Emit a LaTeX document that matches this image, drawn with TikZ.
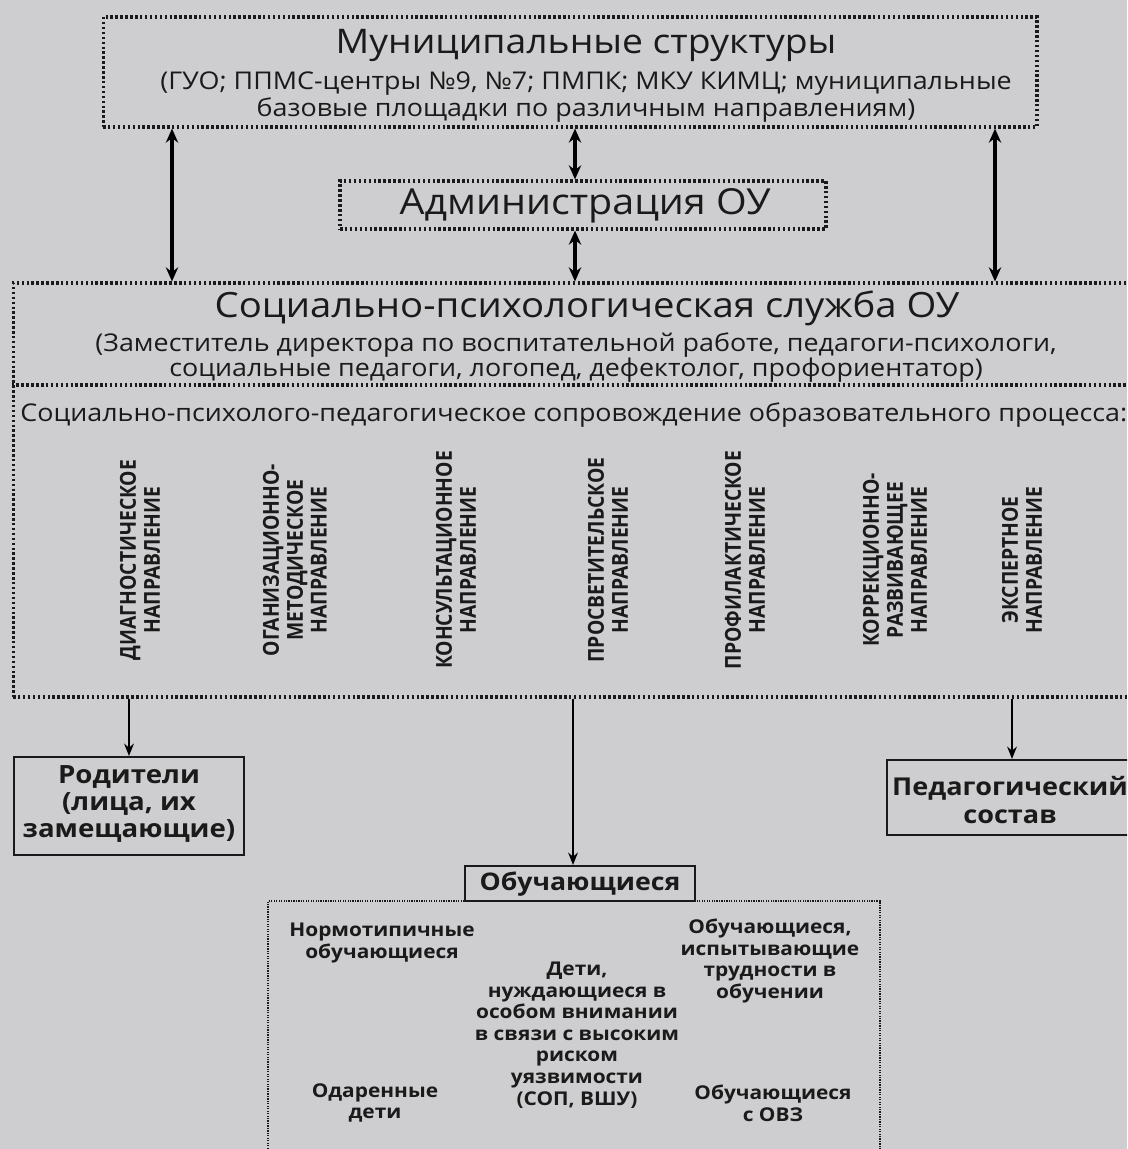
\documentclass[tikz,border=0pt]{standalone}
\usepackage{fontspec}
\setmainfont{Open Sans}[FakeStretch=1.1]
\newfontfamily\narrowfont{Open Sans}[FakeStretch=0.88]
\usetikzlibrary{arrows.meta}
\definecolor{paper}{RGB}{206,206,208}
\definecolor{ink}{RGB}{26,26,26}
\newcommand{\fs}[2]{\fontsize{#1}{#2}\selectfont}

\begin{document}
\begin{tikzpicture}
    [x=0.02cm,y=-0.02cm,every node/.style={text=ink,inner sep=0pt},
     dotbox/.style={draw=ink,line width=1.8pt,dash pattern=on 1.4pt off 1.4pt},
     finebox/.style={draw=ink,line width=0.7pt,dash pattern=on 0.7pt off 0.7pt},
     solidbox/.style={draw=ink,line width=1.2pt},
     twoway/.style={{Stealth[length=8pt,width=7pt]}-{Stealth[length=8pt,width=7pt]},line width=1.8pt},
     oneway/.style={-{Stealth[length=7pt,width=5.5pt]},line width=1.1pt},
     dirlabel/.style={rotate=90,align=center,font=\narrowfont\bfseries\fs{12.5}{13.6}},
     group/.style={align=center,font=\bfseries\fs{10.8}{12.3}}]
    \fill[paper] (0,0) rectangle (1127,1149);
    \clip (0,0) rectangle (1127,1149);
    % boxes
    \node[dotbox,minimum width=18.68cm,minimum height=2.2cm] (mun) at (570,72) {};
    \node[dotbox,minimum width=9.72cm,minimum height=0.96cm] (adm) at (583,205) {};
    \node[dotbox,minimum width=22.54cm,minimum height=8.28cm] (sps) at (576.5,490) {};
    \draw[dotbox] (sps.west |- 0,385) -- (sps.east |- 0,385);
    \node[solidbox,minimum width=4.6cm,minimum height=1.96cm] (par) at (129,806) {};
    \node[solidbox,minimum width=5.06cm,minimum height=1.5cm] (ped) at (1013.5,797.5) {};
    \node[finebox,minimum width=12.24cm,minimum height=5.18cm] (grp) at (574,1030.5) {};
    \node[solidbox,fill=paper,minimum width=4.6cm,minimum height=0.7cm] (obu) at (580,883.5) {};
    % texts
    \node[font=\fs{19.3}{24}] (muntitle) at (586,45) {Муниципальные структуры};
    \node[align=center,font=\fs{13.9}{15.3}] (munsub) at (586,97) {(ГУО; ППМС-центры №9, №7; ПМПК; МКУ КИМЦ; муниципальные\\базовые площадки по различным направлениям)};
    \node[font=\fs{20.4}{24}] (admtitle) at (585,206) {Администрация ОУ};
    \node[font=\fs{19.8}{24}] (spstitle) at (587,308) {Социально-психологическая служба ОУ};
    \node[align=center,font=\fs{13.9}{14.2}] (spssub) at (576,358) {(Заместитель директора по воспитательной работе, педагоги-психологи,\\социальные педагоги, логопед, дефектолог, профориентатор)};
    \node[anchor=west,font=\fs{13.9}{16}] (escort) at (20,415) {Социально-психолого-педагогическое сопровождение образовательного процесса:};
    \foreach \px/\txt [count=\i] in {140/{ДИАГНОСТИЧЕСКОЕ\\НАПРАВЛЕНИЕ},
        295/{ОГАНИЗАЦИОННО-\\МЕТОДИЧЕСКОЕ\\НАПРАВЛЕНИЕ},
        456/{КОНСУЛЬТАЦИОННОЕ\\НАПРАВЛЕНИЕ},
        608/{ПРОСВЕТИТЕЛЬСКОЕ\\НАПРАВЛЕНИЕ},
        745/{ПРОФИЛАКТИЧЕСКОЕ\\НАПРАВЛЕНИЕ},
        895/{КОРРЕКЦИОННО-\\РАЗВИВАЮЩЕЕ\\НАПРАВЛЕНИЕ},
        1022/{ЭКСПЕРТНОЕ\\НАПРАВЛЕНИЕ}}
      \node[dirlabel] (dir\i) at (\px,560) {\txt};
    \node[align=center,font=\bfseries\fs{14.3}{15.6}] (partext) at (129,804) {Родители\\(лица, их\\замещающие)};
    \node[align=center,font=\bfseries\fs{14}{16.4}] (pedtext) at (1010,800) {Педагогический\\состав};
    \node[font=\bfseries\fs{13.8}{18}] (obutext) at (580,884) {Обучающиеся};
    \node[group] (norm) at (382,943) {Нормотипичные\\обучающиеся};
    \node[group] (risk) at (577,1035) {Дети,\\нуждающиеся в\\особом внимании\\в связи с высоким\\риском\\уязвимости\\(СОП, ВШУ)};
    \node[group] (hard) at (770,961) {Обучающиеся,\\испытывающие\\трудности в\\обучении};
    \node[group] (gift) at (375,1103) {Одаренные\\дети};
    \node[group] (ovz) at (773,1103) {Обучающиеся\\с ОВЗ};
    % connectors
    \draw[twoway] (mun.south -| 172,0) -- (sps.north -| 172,0);
    \draw[twoway] (mun.south -| 995,0) -- (sps.north -| 995,0);
    \draw[twoway] (mun.south -| 575,0) -- (adm.north -| 575,0);
    \draw[twoway] (adm.south -| 575,0) -- (sps.north -| 575,0);
    \draw[oneway] (sps.south -| par.north) -- (par.north);
    \draw[oneway] (sps.south -| 1012,0) -- (ped.north -| 1012,0);
    \draw[oneway] (sps.south -| 573,0) -- (obu.north -| 573,0);
\end{tikzpicture}
\end{document}
